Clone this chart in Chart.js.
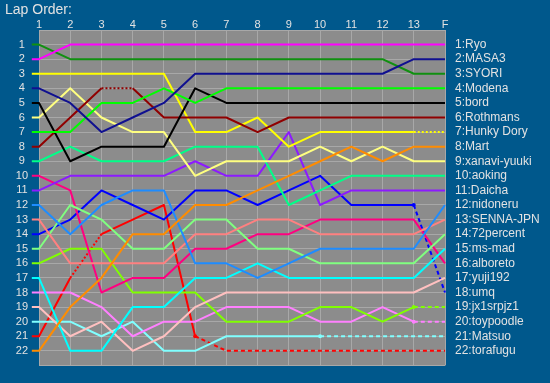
<!DOCTYPE html>
<html><head><meta charset="utf-8">
<script src="https://cdn.jsdelivr.net/npm/chart.js@4/dist/chart.umd.min.js"></script>
<style>html,body{margin:0;padding:0;background:#005a8e;}canvas{display:block}</style>
</head><body>
<canvas id="c" width="550" height="383"></canvas>
<script>
// ---- data ----
const laps = ['1','2','3','4','5','6','7','8','9','10','11','12','13','F'];
const drivers = ['Ryo','MASA3','SYORI','Modena','bord','Rothmans','Hunky Dory','Mart','xanavi-yuuki','aoking','Daicha','nidoneru','SENNA-JPN','72percent','ms-mad','alboreto','yuji192','umq','jx1srpjz1','toypoodle','Matsuo','torafugu'];
const ryo       = [2,1,1,1,1,1,1,1,1,1,1,1,1,1];
const masa3     = [4,5,7,6,5,3,3,3,3,3,3,3,2,2];
const syori     = [1,2,2,2,2,2,2,2,2,2,2,2,3,3];
const modena    = [7,7,5,5,4,5,4,4,4,4,4,4,4,4];
const bord      = [5,9,8,8,8,4,5,5,5,5,5,5,5,5];
const rothmans  = [8,6,4,4,6,6,6,7,6,6,6,6,6,6];
const hunkyDory = [3,3,3,3,3,7,7,6,8,7,7,7,7,7];
const mart      = [22,19,17,14,14,12,12,11,10,9,8,9,8,8];
const xanavi    = [6,4,6,7,7,10,9,9,9,8,9,8,9,9];
const aoking    = [9,8,9,9,9,8,8,8,12,11,10,10,10,10];
const daicha    = [11,10,10,10,10,9,10,10,7,12,11,11,11,11];
const nidoneru  = [12,14,12,11,11,16,16,17,16,15,15,15,15,12];
const senna     = [13,16,16,16,16,14,14,13,13,14,14,14,14,13];
const p72       = [15,12,13,15,15,13,13,15,15,16,16,16,16,14];
const msMad     = [17,22,22,19,19,17,17,16,17,17,17,17,17,15];
const alboreto  = [10,11,18,17,17,15,15,14,14,13,13,13,13,16];
const yuji192   = [19,21,20,22,21,19,18,18,18,18,18,18,18,17];
const umq       = [14,13,11,12,13,11,11,12,11,10,12,12,12,18];
const jx1       = [16,15,15,18,18,18,20,20,20,19,19,20,19,19];
const toypoodle = [18,18,19,21,20,20,19,19,19,20,20,19,20,20];
const matsuo    = [20,20,21,20,22,22,21,21,21,21,21,21,21,21];
const torafugu  = [21,17,14,13,12,21,22,22,22,22,22,22,22,22];
const order = [ryo,masa3,syori,modena,bord,rothmans,hunkyDory,mart,xanavi,aoking,daicha,nidoneru,senna,p72,msMad,alboreto,yuji192,umq,jx1,toypoodle,matsuo,torafugu];
// segments drawn dotted (driver, lap the segment starts at)
const dotted = [['Rothmans',3],['torafugu',2],['Hunky Dory',13]];
// drivers out of the race from this lap on (dashed)
const retired = [['umq',13],['jx1srpjz1',13],['toypoodle',13],['Matsuo',10],['torafugu',6]];

// ---- styles ----
const colors = ['#ff00ff','#101090','#109010','#00ff00','#000000','#900000','#ffff00','#ff8c00','#ffff80','#00ff88','#8c1aff','#1e8cff','#ff8080','#80ff80','#00ffff','#ff0080','#ffc0c0','#0000ff','#80ff00','#ff80ff','#80ffff','#ff0000'];
const BLUE = '#00588c', GRAY = '#8c8c8c', GRID = '#a8a8a8', TXT = '#e2e2e2';
const FONT = '"Liberation Sans", Arial, sans-serif';
const STUB_L = 0.23, STUB_R = 0.26;

const finalNames = [];
order.forEach((p, d) => { finalNames[p[p.length - 1] - 1] = drivers[d]; });

const datasets = drivers.map((name, d) => {
  const pos = order[d];
  const pts = [{x: 1 - STUB_L, y: pos[0]}];
  pos.forEach((p, i) => pts.push({x: i + 1, y: p}));
  pts.push({x: laps.length + STUB_R, y: pos[pos.length - 1]});
  const dots = dotted.filter(e => e[0] === name).map(e => e[1]);
  const ret = retired.find(e => e[0] === name);
  const retLap = ret ? ret[1] : Infinity;
  return {
    label: name, data: pts,
    borderColor: colors[d], backgroundColor: colors[d],
    borderWidth: 2, tension: 0, fill: false, clip: false,
    borderJoinStyle: 'round',
    pointRadius: ctx => (ctx.dataIndex === retLap ? 2 : 0),
    pointBorderWidth: 0, pointHoverRadius: 0, pointHitRadius: 0,
    segment: {
      borderDash: ctx => {
        const lap = ctx.p0DataIndex;
        if (lap >= retLap) return [4, 3];
        if (dots.includes(lap)) return [2, 2];
        return undefined;
      }
    }
  };
});

const bgPlugin = {
  id: 'bg',
  beforeDraw(chart) {
    const {ctx, chartArea: a, width, height} = chart;
    ctx.save();
    ctx.fillStyle = BLUE; ctx.fillRect(0, 0, width, height);
    ctx.fillStyle = GRAY; ctx.fillRect(a.left, a.top, a.right - a.left, a.bottom - a.top);
    ctx.restore();
  }
};

new Chart(document.getElementById('c'), {
  type: 'line',
  data: { datasets },
  plugins: [bgPlugin],
  options: {
    responsive: false, animation: false, events: [],
    layout: { padding: { left: 5, right: 0, top: 0, bottom: 14 } },
    plugins: {
      legend: { display: false }, tooltip: { enabled: false },
      title: { display: true, text: 'Lap Order:', align: 'start', color: TXT,
               font: { family: FONT, size: 14, weight: 'normal' }, padding: { top: 2, bottom: 0 } }
    },
    scales: {
      x: {
        type: 'linear', position: 'top', min: 1, max: laps.length,
        ticks: { stepSize: 1, autoSkip: false, maxRotation: 0, padding: -2, color: TXT,
                 font: { family: FONT, size: 11 }, callback: v => laps[v - 1] ?? '' },
        grid: { color: GRID, drawTicks: false, lineWidth: 1 }, border: { display: false },
        afterFit: s => { s.height = 11.2; }
      },
      y: {
        type: 'linear', position: 'left', reverse: true, min: 0, max: drivers.length + 1,
        ticks: { stepSize: 1, autoSkip: false, maxTicksLimit: 40, crossAlign: 'center', padding: 11, color: TXT,
                 font: { family: FONT, size: 11 },
                 callback: v => (v >= 1 && v <= drivers.length ? String(v) : '') },
        grid: { color: GRID, drawTicks: false, lineWidth: 1 }, border: { display: false },
        afterFit: s => { s.width = 34; }
      },
      y2: {
        type: 'linear', position: 'right', reverse: true, min: 0, max: drivers.length + 1,
        ticks: { stepSize: 1, autoSkip: false, maxTicksLimit: 40, padding: 10, color: TXT,
                 font: { family: FONT, size: 12 },
                 callback: v => (v >= 1 && v <= drivers.length ? v + ':' + finalNames[v - 1] : '') },
        grid: { display: false, drawTicks: false }, border: { display: false },
        afterFit: s => { s.width = 105; }
      }
    }
  }
});
</script>
</body></html>
